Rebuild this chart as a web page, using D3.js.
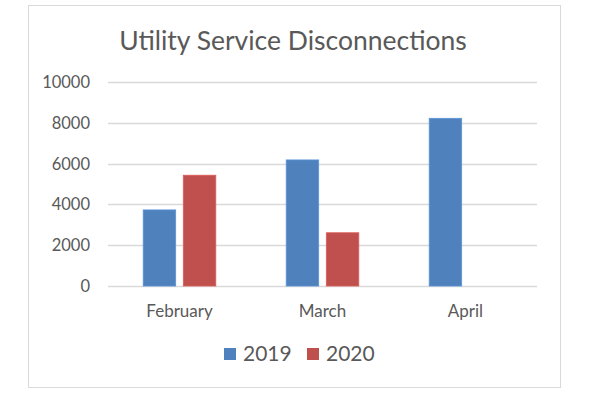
<!DOCTYPE html>
<html lang="en">
<head>
<meta charset="UTF-8">
<title>Utility Service Disconnections</title>
<script src="https://d3js.org/d3.v7.min.js"></script>
<style>
  body { margin: 0; background: #fff; }
  text { font-family: Lato, "Open Sans", sans-serif; fill: #595959; }
</style>
</head>
<body>
<div id="chart"></div>
<script>
var months = ["February", "March", "April"];
var years = ["2019", "2020"];
var s2019 = [3730, 6180, 8220];
var s2020 = [5430, 2610, null];
var yTicks = [0, 2000, 4000, 6000, 8000, 10000];
var colors = ["#4f81bd", "#c0504d"];

var W = 590, H = 393;
var plot = {left: 108, right: 537, top: 82, bottom: 286};

var svg = d3.select("#chart").append("svg")
    .attr("width", W)
    .attr("height", H);

// chart frame
svg.append("rect")
    .attr("x", 28.5).attr("y", 5.5)
    .attr("width", 532).attr("height", 382)
    .attr("fill", "#fff")
    .attr("stroke", "#d9d9d9");

svg.append("text")
    .attr("x", 293).attr("y", 50)
    .attr("text-anchor", "middle")
    .style("font-size", "26.5px")
    .text("Utility Service Disconnections");

var y = d3.scaleLinear().domain([0, 10000]).range([plot.bottom, plot.top]);
var x0 = d3.scaleBand().domain(months).range([plot.left, plot.right]);
var x1 = d3.scaleBand().domain(years)
    .range([35.2, x0.bandwidth() - 35.2])
    .paddingInner(0.19);

// gridlines
svg.append("g")
    .selectAll("line")
    .data(yTicks)
    .enter().append("line")
    .attr("x1", plot.left).attr("x2", plot.right)
    .attr("y1", function(d) { return Math.round(y(d)) + 0.5; })
    .attr("y2", function(d) { return Math.round(y(d)) + 0.5; })
    .attr("stroke", "#d9d9d9")
    .attr("stroke-width", 1.3);

// y labels
svg.append("g")
    .selectAll("text")
    .data(yTicks)
    .enter().append("text")
    .attr("x", 90)
    .attr("y", function(d) { return y(d); })
    .attr("dy", "0.36em")
    .attr("text-anchor", "end")
    .style("font-size", "16.5px")
    .text(function(d) { return d; });

// bars
var rows = months.map(function(m, i) {
    return {month: m, vals: [s2019[i], s2020[i]]};
});

var groups = svg.append("g")
    .selectAll("g")
    .data(rows)
    .enter().append("g")
    .attr("transform", function(d) { return "translate(" + x0(d.month) + ",0)"; });

groups.selectAll("rect")
    .data(function(d) {
        return years.map(function(yr, j) { return {year: yr, value: d.vals[j], j: j}; })
            .filter(function(e) { return e.value != null; });
    })
    .enter().append("rect")
    .attr("x", function(d) { return x1(d.year); })
    .attr("width", x1.bandwidth())
    .attr("y", function(d) { return y(d.value); })
    .attr("height", function(d) { return y(0) - y(d.value); })
    .attr("fill", function(d) { return colors[d.j]; })
    .attr("stroke", function(d) { return d3.color(colors[d.j]).brighter(0.4); })
    .attr("stroke-width", 0.8);

// x labels
svg.append("g")
    .selectAll("text")
    .data(months)
    .enter().append("text")
    .attr("x", function(d) { return x0(d) + x0.bandwidth() / 2; })
    .attr("y", 317)
    .attr("text-anchor", "middle")
    .style("font-size", "17px")
    .text(function(d) { return d; });

// legend
var legX = [224, 307];
var legend = svg.append("g")
    .selectAll("g")
    .data(years)
    .enter().append("g")
    .attr("transform", function(d, i) { return "translate(" + legX[i] + ",348)"; });

legend.append("rect")
    .attr("width", 12).attr("height", 12)
    .attr("fill", function(d, i) { return colors[i]; });

legend.append("text")
    .attr("x", 19).attr("y", 13)
    .style("font-size", "21px")
    .text(function(d) { return d; });
</script>
</body>
</html>
